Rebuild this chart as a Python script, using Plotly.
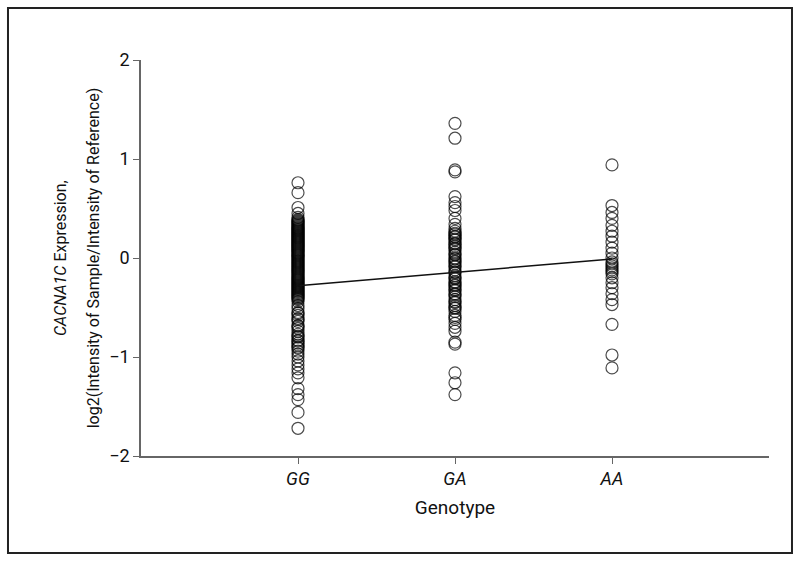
import plotly.graph_objects as go

# genotype positions on the x axis
genotypes = ["GG", "GA", "AA"]
geno_pos = [1, 2, 3]

# expression values, one list per genotype
gg_values = [
    0.76, 0.66, 0.51, 0.45, 0.41, 0.39, 0.37, 0.35, 0.33, 0.31, 0.29, 0.27,
    0.25, 0.23, 0.21, 0.19, 0.17, 0.15, 0.13, 0.11, 0.09, 0.07, 0.05, 0.03,
    0.01, -0.01, -0.03, -0.05, -0.07, -0.09, -0.11, -0.13, -0.15, -0.17,
    -0.19, -0.21, -0.23, -0.25, -0.27, -0.29, -0.31, -0.33, -0.35, -0.37,
    -0.39, -0.41, 0.36, 0.30, 0.22, 0.12, 0.02, -0.06, -0.16, -0.26, -0.34,
    0.28, 0.18, 0.08, -0.02, -0.12, -0.22, -0.32, -0.40, 0.24, 0.04, -0.18,
    0.38, 0.32, 0.26, 0.20, 0.14, 0.10, 0.06, 0.00, -0.04, -0.08, -0.14,
    -0.20, -0.24, -0.28, -0.30, -0.36, -0.38, 0.34, 0.16, -0.10, -0.42,
    -0.44, -0.48, -0.51, -0.55, -0.58, -0.61, -0.64, -0.68, -0.71, -0.74,
    -0.77, -0.80, -0.83, -0.86, -0.88, -0.91, -0.94, -0.97, -1.00, -1.04,
    -1.08, -1.12, -1.16, -1.21, -0.62, -0.79, -0.90, -0.56, -0.69, -0.84,
    -1.32, -1.38, -1.43, -1.56, -1.72,
]
ga_values = [
    1.36, 1.21, 0.89, 0.87, 0.62, 0.56, 0.52, 0.48, 0.40, 0.34, 0.30, 0.27,
    0.24, 0.21, 0.18, 0.15, 0.12, 0.09, 0.06, 0.03, 0.00, -0.03, -0.06,
    -0.09, -0.12, -0.15, -0.18, -0.21, -0.24, -0.27, -0.30, -0.33, -0.36,
    -0.39, -0.42, -0.45, -0.48, -0.51, -0.54, -0.58, -0.62, -0.66, -0.70,
    -0.74, 0.25, 0.14, 0.04, -0.08, -0.20, -0.32, -0.44, 0.19, -0.01,
    -0.25, 0.22, 0.10, -0.04, -0.14, -0.28, -0.37, -0.50, -0.60,
    -0.85, -0.87, -1.16, -1.26, -1.38,
]
aa_values = [
    0.94, 0.53, 0.46, 0.40, 0.33, 0.27, 0.22, 0.16, 0.10, 0.05, 0.00,
    -0.04, -0.08, -0.12, -0.16, -0.20, -0.25, -0.30, -0.36, -0.42, -0.47,
    -0.10, -0.06, -0.14, -0.67, -0.98, -1.11,
]

# regression line at each genotype
fit_values = [-0.28, -0.145, -0.01]

fig = go.Figure()

marker = dict(symbol="circle-open", size=12, color="black", opacity=0.7,
              line=dict(width=1.2, color="black"))
for pos, vals in zip(geno_pos, [gg_values, ga_values, aa_values]):
    fig.add_trace(go.Scatter(x=[pos] * len(vals), y=vals, mode="markers",
                             marker=marker, showlegend=False))

fig.add_trace(go.Scatter(x=geno_pos, y=fit_values, mode="lines",
                         line=dict(color="#111", width=1.5), showlegend=False))

# outer frame around the whole figure
fig.add_shape(type="rect", xref="paper", yref="paper",
              x0=-0.2118, x1=1.0366, y0=-0.245, y1=1.131,
              line=dict(color="#222", width=2))

font_name = "Roboto, Liberation Sans, sans-serif"

# two-line y title, placed by hand to get the wide line gap
fig.add_annotation(xref="paper", yref="paper", x=-0.129, y=0.5,
                   text="<i>CACNA1C</i> Expression,", textangle=-90,
                   showarrow=False, xanchor="center", yanchor="middle",
                   font=dict(size=16))
fig.add_annotation(xref="paper", yref="paper", x=-0.076, y=0.5,
                   text="log2(Intensity of Sample/Intensity of Reference)",
                   textangle=-90, showarrow=False,
                   xanchor="center", yanchor="middle", font=dict(size=16))

fig.update_layout(
    width=800, height=564,
    paper_bgcolor="white", plot_bgcolor="white",
    margin=dict(l=141, r=31, t=60, b=108),
    font=dict(family=font_name, size=17, color="#111"),
    xaxis=dict(range=[0, 4], tickvals=geno_pos,
               ticktext=["<i>%s</i>" % g for g in genotypes],
               tickfont=dict(size=18),
               showgrid=False, zeroline=False, showline=True,
               linecolor="#666", linewidth=1.5, ticks="outside",
               ticklen=6, tickcolor="#666", automargin=False,
               title=dict(text="Genotype", standoff=12, font=dict(size=19))),
    yaxis=dict(range=[-2, 2], tickvals=[-2, -1, 0, 1, 2],
               ticktext=["\u22122", "\u22121", "0", "1", "2"],
               tickfont=dict(size=18),
               showgrid=False, zeroline=False, showline=True,
               linecolor="#666", linewidth=1.5, ticks="outside",
               ticklen=6, tickcolor="#666", automargin=False),
)

fig.write_html("out.html", config={"displayModeBar": False},
               post_script="document.body.style.margin='0';")
